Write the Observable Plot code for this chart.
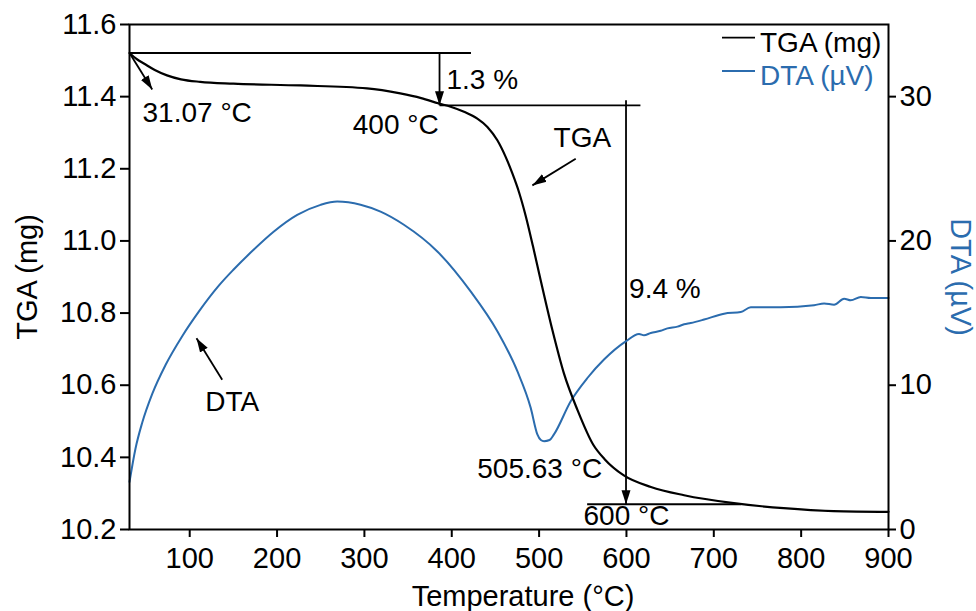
<!DOCTYPE html>
<html>
<head>
<meta charset="utf-8">
<script src="https://cdn.jsdelivr.net/npm/d3@7"></script>
<script src="https://cdn.jsdelivr.net/npm/@observablehq/plot@0.6"></script>
<style>
  html, body { margin: 0; padding: 0; background: white; }
  #chart svg { display: block; }
</style>
</head>
<body>
<div id="chart"></div>
<script>
// ---- Data ----
const tgaTemp = [31.07, 40, 47.5, 60, 74, 90, 112, 150, 227, 303, 341, 365, 385.3, 398.7, 414, 429.3, 440.8, 452.2, 461.7, 469.4, 477, 484.6, 493, 501.8, 515.2, 528.5, 544, 562, 575, 597, 628, 666, 723, 780, 837, 900];
const tgaMg   = [11.521, 11.503, 11.492, 11.474, 11.459, 11.448, 11.441, 11.436, 11.431, 11.423, 11.409, 11.396, 11.381, 11.372, 11.358, 11.339, 11.316, 11.279, 11.233, 11.187, 11.135, 11.07, 10.985, 10.891, 10.753, 10.632, 10.531, 10.435, 10.395, 10.35, 10.318, 10.295, 10.273, 10.259, 10.251, 10.249];

const dtaTemp = [31.07, 37.9, 45.6, 57.1, 72.3, 91.4, 110.4, 133.3, 150, 173.4, 196.4, 223.1, 249.8, 268.9, 295.6, 318.5, 345.2, 383.5, 421.6, 452.2, 475.1, 490.4, 498, 502, 505.63, 512, 517, 536.2, 555.3, 574.3, 599.2, 614.4, 620.1, 627.8, 639.2, 646.9, 658.4, 666, 673.6, 688.9, 711.8, 730.9, 742.3, 776.7, 814.8, 826.3, 837.7, 849.2, 856.8, 868.3, 879.8, 900];
const dtaUV   = [3.3, 5.6, 7.4, 9.4, 11.4, 13.4, 15.1, 16.9, 18.0, 19.4, 20.65, 21.8, 22.5, 22.73, 22.51, 22.03, 21.12, 19.27, 16.5, 13.74, 10.97, 8.43, 6.59, 6.2, 6.12, 6.2, 6.59, 8.89, 10.5, 11.78, 13.04, 13.55, 13.46, 13.62, 13.77, 13.94, 14.06, 14.22, 14.31, 14.55, 14.96, 15.07, 15.40, 15.40, 15.54, 15.67, 15.58, 16.0, 15.88, 16.11, 16.04, 16.04];

const xTicks   = [100, 200, 300, 400, 500, 600, 700, 800, 900];
const tgaTicks = [10.2, 10.4, 10.6, 10.8, 11.0, 11.2, 11.4, 11.6];
const dtaTicks = [0, 10, 20, 30];

// annotation segments (data coordinates: temperature, TGA mg)
const segX1 = [31.07, 386, 555];
const segY1 = [11.521, 11.376, 10.270];
const segX2 = [422, 616, 731];
const segY2 = [11.521, 11.376, 10.270];

// annotation arrows (tail -> tip)
const arrX1 = [31.07, 386, 599.5, 541.9, 137.2];
const arrY1 = [11.521, 11.521, 11.39, 11.228, 10.615];
const arrX2 = [57.1, 386, 599.5, 492.3, 107.8];
const arrY2 = [11.42, 11.376, 10.270, 11.154, 10.73];

// annotation labels
const labText   = ["31.07 °C", "1.3 %", "400 °C", "TGA", "9.4 %", "505.63 °C", "600 °C", "DTA"];
const labX      = [46, 394, 385, 549.5, 603, 500.7, 600, 148.7];
const labY      = [11.354, 11.446, 11.321, 11.284, 10.866, 10.369, 10.237, 10.554];
const labAnchor = ["start", "start", "end", "middle", "start", "middle", "middle", "middle"];

const seriesNames = ["TGA (mg)", "DTA (µV)"];
const blue = "#2b6cae";

// ---- mapping of DTA (µV) onto the TGA axis (right axis 0..35 ↔ left 10.2..11.6) ----
const yLo = 10.2, yHi = 11.6, dLo = 0, dHi = 35;
const toY = d => yLo + (d - dLo) * (yHi - yLo) / (dHi - dLo);
const fromY = y => dLo + (y - yLo) * (dHi - dLo) / (yHi - yLo);

const tga = tgaTemp.map((t, i) => ({t, v: tgaMg[i]}));
const dta = dtaTemp.map((t, i) => ({t, v: toY(dtaUV[i])}));
const segs = segX1.map((x, i) => ({x1: x, y1: segY1[i], x2: segX2[i], y2: segY2[i]}));
const arrows = arrX1.map((x, i) => ({x1: x, y1: arrY1[i], x2: arrX2[i], y2: arrY2[i]}));
const labels = labText.map((s, i) => ({s, x: labX[i], y: labY[i], a: labAnchor[i]}));

const font = "'Liberation Sans', Arial, Helvetica, sans-serif";
const annSize = 28, tickSize = 29;

const labelMark = anchor => Plot.text(labels.filter(d => d.a === anchor),
  {x: "x", y: "y", text: "s", textAnchor: anchor, fontSize: annSize, fill: "black"});

const chart = Plot.plot({
  width: 976,
  height: 611,
  marginLeft: 129,
  marginRight: 88,
  marginTop: 24,
  marginBottom: 82,
  style: {fontFamily: font, fontSize: tickSize + "px", background: "white", color: "black", overflow: "visible"},
  x: {domain: [31.07, 900]},
  y: {domain: [yLo, yHi]},
  marks: [
    Plot.axisX({ticks: xTicks, tickSize: 8, tickPadding: 10, tickFormat: d => String(d), strokeWidth: 2, fontSize: tickSize, label: null}),
    Plot.axisY({ticks: tgaTicks, tickSize: 9, tickPadding: 4, tickFormat: d3.format(".1f"), strokeWidth: 2, fontSize: tickSize, label: null}),
    Plot.axisY({anchor: "right", ticks: dtaTicks.map(toY), tickFormat: y => String(Math.round(fromY(y))), tickSize: 7, tickPadding: 4, strokeWidth: 2, fontSize: tickSize, label: null}),
    Plot.text(["Temperature (°C)"], {frameAnchor: "bottom", textAnchor: "middle", dy: 67, dx: 14, lineAnchor: "middle", fontSize: tickSize}),
    Plot.text(["TGA (mg)"], {frameAnchor: "left", textAnchor: "middle", rotate: -90, dx: -102, dy: 0, lineAnchor: "middle", fontSize: tickSize}),
    Plot.text([seriesNames[1]], {frameAnchor: "right", textAnchor: "middle", rotate: 90, dx: 72, dy: 0, lineAnchor: "middle", fontSize: tickSize, fill: blue}),
    Plot.link(segs, {x1: "x1", y1: "y1", x2: "x2", y2: "y2", stroke: "black", strokeWidth: 1.8}),
    Plot.link(arrows, {x1: "x1", y1: "y1", x2: "x2", y2: "y2", stroke: "black", strokeWidth: 1.8, markerEnd: "arrow"}),
    Plot.line(dta, {x: "t", y: "v", stroke: blue, strokeWidth: 2, curve: "monotone-x"}),
    Plot.line(tga, {x: "t", y: "v", stroke: "black", strokeWidth: 2.2, curve: "monotone-x"}),
    labelMark("start"),
    labelMark("middle"),
    labelMark("end"),
    Plot.frame({stroke: "black", strokeWidth: 2})
  ]
});

// filled arrowheads
d3.select(chart).selectAll("marker")
  .attr("viewBox", "-14 -5 14 10")
  .attr("markerUnits", "userSpaceOnUse")
  .attr("markerWidth", 14)
  .attr("markerHeight", 10)
  .attr("fill", "black")
  .attr("stroke", "none")
  .selectAll("path")
  .attr("d", "M-14,-4.5L0,0L-14,4.5Z")
  .attr("fill", "black")
  .attr("stroke", "none");

// legend (top right, inside the frame)
const svg = d3.select(chart);
const lg = svg.append("g").attr("font-family", font).attr("font-size", annSize).attr("text-anchor", "start");
const legColors = ["black", blue];
const legLineY = [37.7, 71];
const legTextY = [51.5, 85];
seriesNames.forEach((name, i) => {
  lg.append("line").attr("x1", 722).attr("x2", 755).attr("y1", legLineY[i]).attr("y2", legLineY[i])
    .attr("stroke", legColors[i]).attr("stroke-width", 1.8);
  lg.append("text").attr("x", 760).attr("y", legTextY[i]).attr("fill", legColors[i]).text(name);
});

document.getElementById("chart").appendChild(chart);
</script>
</body>
</html>
